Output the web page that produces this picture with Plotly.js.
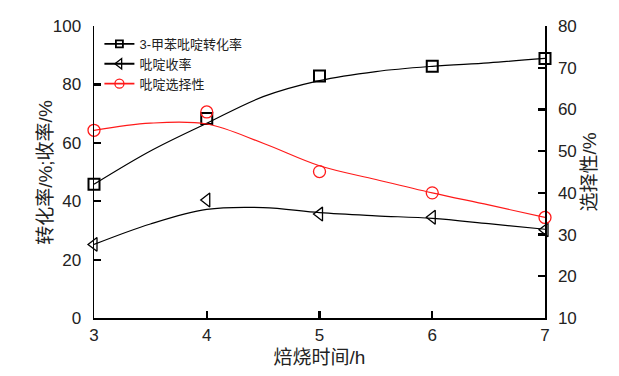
<!DOCTYPE html>
<html>
<head>
<meta charset="utf-8">
<script src="https://cdn.plot.ly/plotly-3.0.1.min.js"></script>
<style>html,body{margin:0;padding:0;background:#fff;}#chart{width:619px;height:376px;}</style>
</head>
<body>
<div id="chart"></div>
<script>
// Measured points
const timeH = [3, 4, 5, 6, 7];
const conversion = [45.8, 68.3, 82.9, 86.2, 88.9];
const pyridineYield = [25.2, 40.4, 35.6, 34.5, 30.2];
const selectivity = [55.0, 59.4, 45.1, 40.0, 34.1];
// Fitted curves
const curveTime = [3, 3.5, 4, 4.5, 5, 5.5, 6, 6.5, 7];
const conversionCurve = [45.8, 57.2, 66.7, 75.8, 81.3, 84.4, 86.2, 87.4, 88.9];
const yieldCurve = [25.2, 32.2, 37.2, 37.8, 36.1, 35.0, 34.1, 32.3, 30.4];
const selectivityCurve = [55.0, 56.7, 56.5, 51.9, 46.5, 43.2, 40.0, 37.1, 34.1];
const names = ['3-甲苯吡啶转化率', '吡啶收率', '吡啶选择性'];
const leftTitle = '转化率/%;收率/%';

const FONT = 'Liberation Sans, Arial, Noto Sans CJK SC, sans-serif';
const BLACK = '#000000', RED = '#ff1a1a', TXT = '#222222';

const traces = [
  {x: curveTime, y: conversionCurve, mode: 'lines', line: {color: BLACK, width: 1.2, shape: 'spline'}, showlegend: false, hoverinfo: 'skip'},
  {x: curveTime, y: yieldCurve, mode: 'lines', line: {color: BLACK, width: 1.2, shape: 'spline'}, showlegend: false, hoverinfo: 'skip'},
  {x: curveTime, y: selectivityCurve, yaxis: 'y2', mode: 'lines', line: {color: RED, width: 1.2, shape: 'spline'}, showlegend: false, hoverinfo: 'skip'},
  {x: timeH, y: conversion, mode: 'markers', marker: {symbol: 'square-open', size: 11, color: BLACK, line: {width: 2}}, showlegend: false, cliponaxis: false},
  {x: timeH, y: pyridineYield, mode: 'markers', marker: {symbol: 'triangle-left-open', size: 12, color: BLACK, line: {width: 1.3}}, showlegend: false, cliponaxis: false},
  {x: timeH, y: selectivity, yaxis: 'y2', mode: 'markers', marker: {symbol: 'circle-open', size: 12, color: RED, line: {width: 1.3}}, showlegend: false, cliponaxis: false},
  // legend entries
  {x: [null], y: [null], name: names[0], mode: 'lines+markers', line: {color: BLACK, width: 1.8}, marker: {symbol: 'square-open', size: 7, color: BLACK, line: {width: 1.8}}},
  {x: [null], y: [null], name: names[1], mode: 'lines+markers', line: {color: BLACK, width: 1.8}, marker: {symbol: 'triangle-left-open', size: 9, color: BLACK, line: {width: 1.3}}},
  {x: [null], y: [null], name: names[2], mode: 'lines+markers', line: {color: RED, width: 1.8}, marker: {symbol: 'circle-open', size: 9, color: RED, line: {width: 1.3}}}
];

const axisCommon = {
  showgrid: false, zeroline: false, showline: true, linecolor: BLACK, linewidth: 1.5,
  ticks: 'inside', ticklen: 7, tickwidth: 2.2, tickcolor: BLACK,
  tickfont: {family: FONT, size: 17, color: TXT}
};
const titleFont = {family: FONT, size: 19, color: TXT};

const layout = {
  width: 619, height: 376,
  margin: {l: 94, r: 74, t: 26, b: 58},
  paper_bgcolor: '#fff', plot_bgcolor: '#fff',
  font: {family: FONT, color: TXT},
  xaxis: Object.assign({}, axisCommon, {range: [3, 7], dtick: 1, tick0: 3, ticklabelstandoff: 1,
    title: {text: '焙烧时间/h', font: titleFont, standoff: 7}}),
  yaxis: Object.assign({}, axisCommon, {range: [0, 100], dtick: 20, tick0: 0, ticklabelstandoff: 8}),
  yaxis2: Object.assign({}, axisCommon, {range: [10, 80], dtick: 10, tick0: 10, overlaying: 'y', side: 'right', ticklabelstandoff: 8,
    title: {text: '选择性/%', font: titleFont, standoff: 7}}),
  annotations: [{text: leftTitle, xref: 'paper', yref: 'paper', x: -0.109, y: 0.5, xanchor: 'center', yanchor: 'middle',
    textangle: -90, showarrow: false, font: titleFont}],
  legend: {x: 0.012, y: 0.99, xanchor: 'left', yanchor: 'top', bgcolor: 'rgba(0,0,0,0)',
    font: {family: FONT, size: 13, color: TXT}, tracegroupgap: 0, itemwidth: 30},
  showlegend: true
};

Plotly.newPlot('chart', traces, layout, {displayModeBar: false, staticPlot: true});
</script>
</body>
</html>
